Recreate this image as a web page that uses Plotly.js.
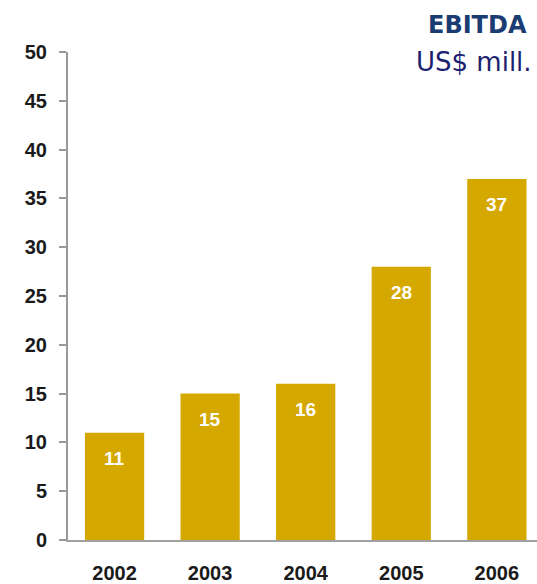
<!DOCTYPE html>
<html>
<head>
<meta charset="utf-8">
<script src="https://cdn.plot.ly/plotly-3.0.1.min.js"></script>
<style>html,body{margin:0;padding:0;background:#fff;}#chart{width:537px;height:584px;}</style>
</head>
<body>
<div id="chart"></div>
<script>
const years = ['2002', '2003', '2004', '2005', '2006'];
const ebitda = [11, 15, 16, 28, 37];
const yTicks = [0, 5, 10, 15, 20, 25, 30, 35, 40, 45, 50];

const barColor = '#D5A800';

const trace = {
  type: 'bar',
  x: years,
  y: ebitda,
  marker: { color: barColor, line: { width: 0 } },
  width: 0.62,
  hoverinfo: 'none'
};

const annotations = years.map((yr, i) => ({
  x: i, y: ebitda[i], xref: 'x', yref: 'y',
  text: '<b>' + String(ebitda[i]) + '</b>', showarrow: false,
  yanchor: 'top', yshift: -13,
  font: { family: 'Liberation Sans, Arial, sans-serif', size: 19, color: '#ffffff' }
}));

annotations.push({
  xref: 'paper', yref: 'paper', x: 1, y: 1, xanchor: 'right', yanchor: 'bottom',
  xshift: -8, yshift: 11,
  text: '<b>EBITDA</b>', showarrow: false,
  font: { family: 'DejaVu Sans, Verdana, sans-serif', size: 24, color: '#1B3C73' }
});
annotations.push({
  xref: 'paper', yref: 'paper', x: 1, y: 1, xanchor: 'right', yanchor: 'top',
  xshift: -3, yshift: 7,
  text: 'US$ mill.', showarrow: false,
  font: { family: 'DejaVu Sans, Verdana, sans-serif', size: 26, color: '#1C1F70' }
});

const layout = {
  width: 537, height: 584,
  margin: { l: 68, r: 0, t: 52, b: 44 },
  paper_bgcolor: '#ffffff', plot_bgcolor: '#ffffff',
  showlegend: false,
  xaxis: {
    type: 'category',
    range: [-0.487, 4.42],
    showline: true, linecolor: '#a0a0a0', linewidth: 2,
    ticks: '', showgrid: false, zeroline: false,
    ticklabelstandoff: 14,
    tickfont: { family: 'Liberation Sans, Arial, sans-serif', size: 20, color: '#1a1a1a', weight: 'bold' }
  },
  yaxis: {
    range: [0, 50],
    tickvals: yTicks,
    ticktext: yTicks.map(String),
    showline: true, linecolor: '#999999', linewidth: 2,
    ticks: 'outside', ticklen: 7, tickwidth: 2, tickcolor: '#999999',
    showgrid: false, zeroline: false,
    ticklabelstandoff: 8,
    tickfont: { family: 'Liberation Sans, Arial, sans-serif', size: 20, color: '#1a1a1a', weight: 'bold' }
  },
  annotations: annotations
};

Plotly.newPlot('chart', [trace], layout, { displayModeBar: false, staticPlot: true });
</script>
</body>
</html>
